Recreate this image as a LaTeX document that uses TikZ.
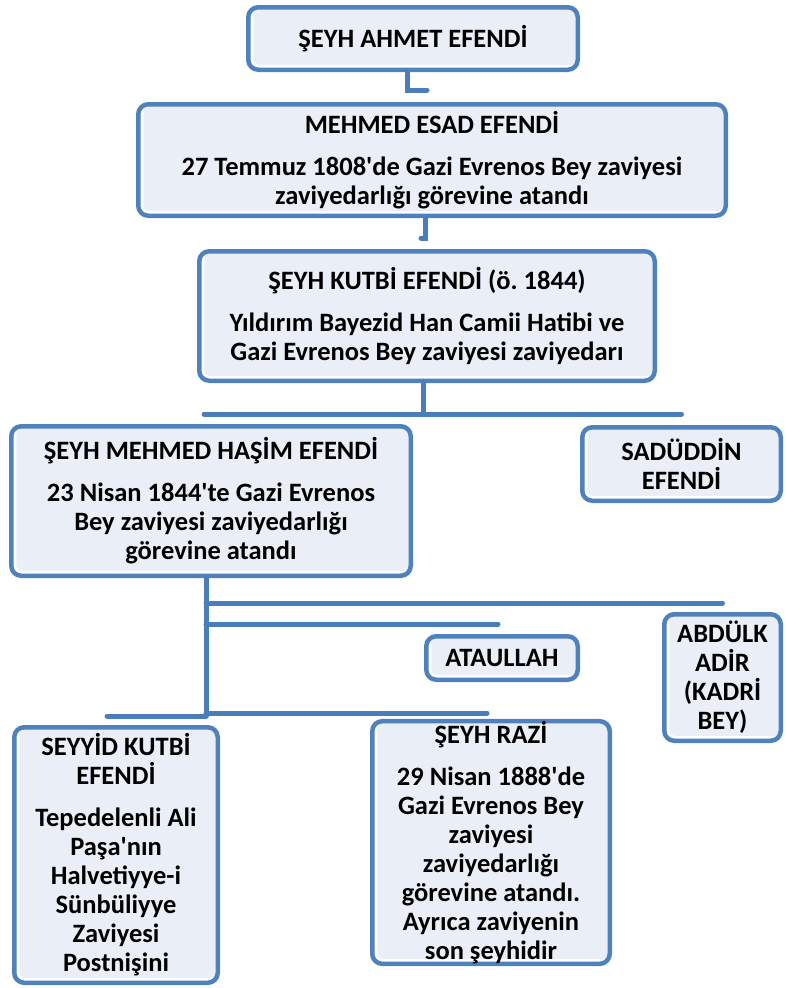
\documentclass[tikz,border=0pt]{standalone}
\usepackage{fontspec}
\newfontfamily\cf{Carlito}
\definecolor{boxblue}{HTML}{4F81BD}
\definecolor{lineblue}{HTML}{4A7EBA}
\definecolor{boxfill}{HTML}{EAEFF7}
\frenchspacing
\begin{document}
\begin{tikzpicture}[x=1pt,y=-1pt,
  obox/.style={draw=boxblue, line width=4.5pt, rounded corners=10pt, fill=white,
    align=center, inner sep=0pt, text=black,
    font=\cf\bfseries\fontsize{26.5}{29}\selectfont,
    path picture={\fill[boxfill, rounded corners=5pt]
      ([xshift=5pt,yshift=5pt]path picture bounding box.south west) rectangle
      ([xshift=-1pt,yshift=-1pt]path picture bounding box.north east);}},
  conn/.style={draw=lineblue, line width=5pt, line cap=round}]
\useasboundingbox (0,0) rectangle (785,988);

\node[obox, minimum width=329.5pt, minimum height=62.5pt] (ahmet) at (413,38.5)
  {ŞEYH AHMET EFENDİ};
\node[obox, minimum width=587.5pt, minimum height=111.5pt] (mehmed) at (432,160)
  {MEHMED ESAD EFENDİ\\[13pt]27 Temmuz 1808'de Gazi Evrenos Bey zaviyesi\\zaviyedarlığı görevine atandı};
\node[obox, minimum width=455.5pt, minimum height=129.5pt] (kutbi) at (427,316)
  {ŞEYH KUTBİ EFENDİ (ö.\ 1844)\\[13pt]Yıldırım Bayezid Han Camii Hatibi ve\\Gazi Evrenos Bey zaviyesi zaviyedarı};
\node[obox, minimum width=399.5pt, minimum height=149.5pt] (hasim) at (211,501)
  {ŞEYH MEHMED HAŞİM EFENDİ\\[13pt]23 Nisan 1844'te Gazi Evrenos\\Bey zaviyesi zaviyedarlığı\\görevine atandı};
\node[obox, minimum width=198.5pt, minimum height=73.5pt] (sad) at (681.5,464)
  {SADÜDDİN\\EFENDİ};
\node[obox, minimum width=151.5pt, minimum height=43.5pt] (ata) at (502,658)
  {ATAULLAH};
\node[obox, minimum width=116.5pt, minimum height=126.5pt] (abd) at (722.5,677.5)
  {ABDÜLK\\ADİR\\(KADRİ\\BEY)};
\node[obox, minimum width=203.5pt, minimum height=255.5pt] (seyyid) at (116,855)
  {SEYYİD KUTBİ\\EFENDİ\\[13pt]Tepedelenli Ali\\Paşa'nın\\Halvetiyye-i\\Sünbüliyye\\Zaviyesi\\Postnişini};
\node[obox, minimum width=237.5pt, minimum height=236.5pt] (razi) at (491,842.5)
  {ŞEYH RAZİ\\[13pt]29 Nisan 1888'de\\Gazi Evrenos Bey\\zaviyesi\\zaviyedarlığı\\görevine atandı.\\Ayrıca zaviyenin\\son şeyhidir};

% connectors
\coordinate (j1) at (427,90);
\draw[conn] ([xshift=-6pt]ahmet.south) |- (j1);
\coordinate (j2) at (421,238);
\draw[conn] ([xshift=-7pt]mehmed.south) |- (j2);
\coordinate (jb) at (423,414);
\draw[conn] ([xshift=-4pt]kutbi.south) -- (jb);
\draw[conn] ([xshift=-7pt]hasim.north |- jb) -- (sad.north |- jb);

\coordinate (h0) at ([xshift=-5pt]hasim.south);
\coordinate (ya) at (0,603);
\coordinate (yb) at (0,624);
\coordinate (yc) at (0,713);
\coordinate (yd) at (0,716);
\draw[conn] (h0) -- (h0 |- yd);
\draw[conn] (h0 |- ya) -- (abd.north |- ya);
\draw[conn] (h0 |- yb) -- ([xshift=-4pt]ata.north |- yb);
\draw[conn] (h0 |- yc) -- ([xshift=-4pt]razi.north |- yc);
\draw[conn] ([xshift=-9pt]seyyid.north |- yd) -- (h0 |- yd);
\end{tikzpicture}
\end{document}
